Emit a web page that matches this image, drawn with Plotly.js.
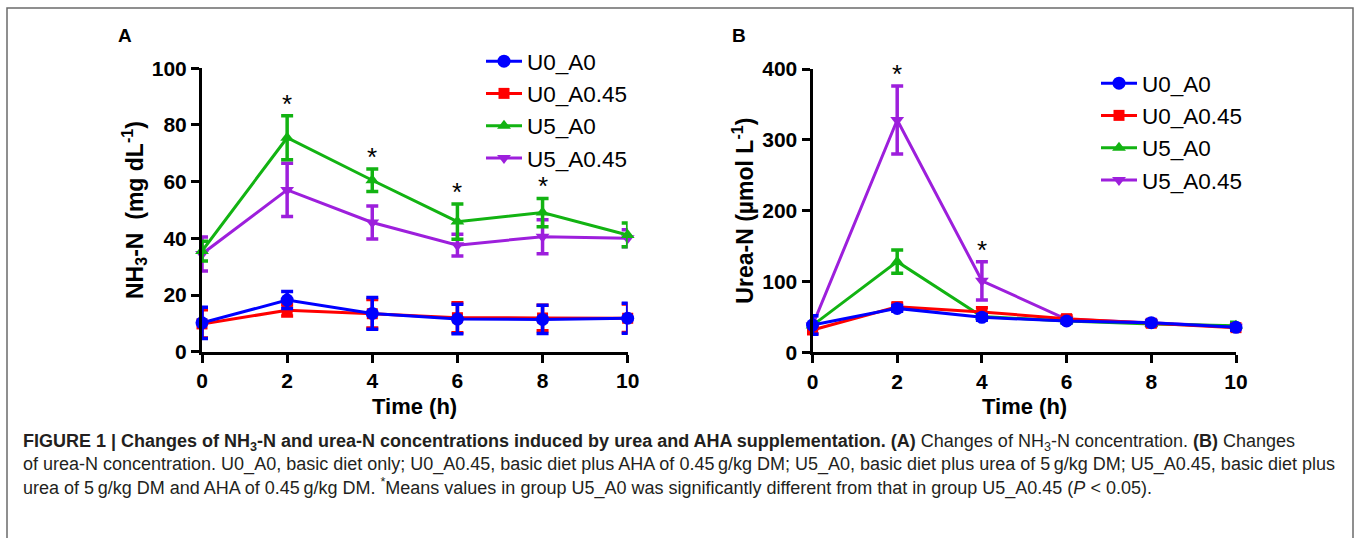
<!DOCTYPE html>
<html>
<head>
<meta charset="utf-8">
<script src="https://cdn.plot.ly/plotly-3.0.1.min.js"></script>
<style>
html,body{margin:0;padding:0;background:#fff;}
#chart{width:1357px;height:538px;}
</style>
</head>
<body>
<div id="chart"></div>
<script>
// ---------- data ----------
const times = [0, 2, 4, 6, 8, 10];
const groupNames = ['U0_A0', 'U0_A0.45', 'U5_A0', 'U5_A0.45'];

// Panel A: NH3-N (mg dL-1), mean and SE
const nh3_U0_A0      = [10.2, 18.2, 13.5, 11.5, 11.4, 11.8];
const nh3_U0_A0_err  = [5.5, 3.0, 5.6, 5.2, 5.0, 5.3];
const nh3_U0_A045    = [9.8, 14.6, 13.4, 12.0, 11.9, 11.8];
const nh3_U0_A045_err= [5.0, 2.0, 5.0, 5.3, 4.5, 5.0];
const nh3_U5_A0      = [35.5, 75.5, 60.5, 45.9, 49.1, 41.2];
const nh3_U5_A0_err  = [3.5, 7.8, 4.0, 6.2, 5.0, 4.2];
const nh3_U5_A045    = [34.5, 57.1, 45.6, 37.6, 40.6, 40.0];
const nh3_U5_A045_err= [6.0, 9.4, 5.8, 3.8, 6.0, 3.0];

// Panel B: Urea-N (umol L-1), mean and SE
const urea_U0_A0      = [38.5, 62.0, 49.4, 44.2, 41.8, 35.3];
const urea_U0_A0_err  = [13.0, 4.0, 4.0, 3.0, 3.0, 4.0];
const urea_U0_A045    = [31.5, 64.4, 57.0, 47.5, 41.0, 34.8];
const urea_U0_A045_err= [5.0, 5.0, 6.0, 4.0, 3.0, 3.0];
const urea_U5_A0      = [38.0, 128.0, 50.5, 44.2, 40.0, 37.5];
const urea_U5_A0_err  = [4.0, 16.5, 4.0, 3.0, 3.0, 5.0];
const urea_U5_A045    = [38.0, 328.0, 101.0, 46.5, 41.8, 36.0];
const urea_U5_A045_err= [5.0, 48.0, 27.0, 3.0, 3.0, 3.0];

// time points with significant difference (U5_A0 vs U5_A0.45)
const sigA = [2, 4, 6, 8];
const sigB = [2, 4];

const yTicksA = [0, 20, 40, 60, 80, 100];
const yTicksB = [0, 100, 200, 300, 400];

// ---------- styling ----------
const W = 1357, H = 538;
const colors  = ['#0000ff', '#ff0000', '#12b312', '#9d1fdc'];
const symbols = ['circle', 'square', 'triangle-up', 'triangle-down'];
const msize   = [13, 11, 12, 12];
const FONT = 'Arial, Liberation Sans, sans-serif';

const seriesA = [[nh3_U0_A0, nh3_U0_A0_err], [nh3_U0_A045, nh3_U0_A045_err], [nh3_U5_A0, nh3_U5_A0_err], [nh3_U5_A045, nh3_U5_A045_err]];
const seriesB = [[urea_U0_A0, urea_U0_A0_err], [urea_U0_A045, urea_U0_A045_err], [urea_U5_A0, urea_U5_A0_err], [urea_U5_A045, urea_U5_A045_err]];

function makeTraces(series, xa, ya, leg) {
  const out = [];
  // draw purple first, blue last (on top)
  for (let i = series.length - 1; i >= 0; i--) {
    out.push({
      type: 'scatter', mode: 'lines+markers',
      x: times, y: series[i][0],
      xaxis: xa, yaxis: ya, legend: leg,
      name: groupNames[i], legendrank: i + 1,
      cliponaxis: false,
      line: {color: colors[i], width: 3},
      marker: {color: colors[i], symbol: symbols[i], size: msize[i]},
      error_y: {type: 'data', array: series[i][1], visible: true, color: colors[i], thickness: 3.5, width: 6}
    });
  }
  return out;
}

const traces = makeTraces(seriesA, 'x', 'y', 'legend').concat(makeTraces(seriesB, 'x2', 'y2', 'legend2'));

function starY(series, t) {
  const k = times.indexOf(t);
  let m = -Infinity;
  series.forEach(s => { m = Math.max(m, s[0][k] + s[1][k]); });
  return m;
}

const px = v => v / W;      // pixel -> paper x
const py = v => 1 - v / H;  // pixel -> paper y

const annotations = [];
const starFont = {family: FONT, size: 26, color: '#000'};
sigA.forEach(t => annotations.push({xref: 'x', yref: 'y', x: t, y: starY(seriesA, t), text: '*', showarrow: false,
  xanchor: 'center', yanchor: 'bottom', yshift: -5, font: starFont}));
sigB.forEach(t => annotations.push({xref: 'x2', yref: 'y2', x: t, y: starY(seriesB, t), text: '*', showarrow: false,
  xanchor: 'center', yanchor: 'bottom', yshift: -5, font: starFont}));

// panel letters
annotations.push({xref: 'paper', yref: 'paper', x: px(125), y: py(35), xanchor: 'center', yanchor: 'middle', text: '<b>A</b>', showarrow: false, font: {family: FONT, size: 19, color: '#000'}});
annotations.push({xref: 'paper', yref: 'paper', x: px(739), y: py(35), xanchor: 'center', yanchor: 'middle', text: '<b>B</b>', showarrow: false, font: {family: FONT, size: 19, color: '#000'}});

// axis titles
const titleFont = {family: FONT, size: 22, color: '#000', weight: 'bold'};
const yTitleFont = {family: FONT, size: 23, color: '#000', weight: 'bold'};
annotations.push({xref: 'x', yref: 'paper', x: 5, y: py(406), xanchor: 'center', yanchor: 'middle', text: 'Time (h)', showarrow: false, font: titleFont});
annotations.push({xref: 'x2', yref: 'paper', x: 5, y: py(406), xanchor: 'center', yanchor: 'middle', text: 'Time (h)', showarrow: false, font: titleFont});
annotations.push({xref: 'paper', yref: 'y', x: px(134), y: 50, xanchor: 'center', yanchor: 'middle', text: 'NH<sub>3</sub>-N  (mg dL<sup>-1</sup>)', textangle: -90, showarrow: false, font: yTitleFont});
annotations.push({xref: 'paper', yref: 'y2', x: px(743), y: 200, xanchor: 'center', yanchor: 'middle', text: 'Urea-N (µmol L<sup>-1</sup>)', textangle: -90, showarrow: false, font: yTitleFont});

// caption
const caption =
  '<b>FIGURE 1 | Changes of NH<sub>3</sub>-N and urea-N concentrations induced by urea and AHA supplementation. (A)</b> Changes of NH<sub>3</sub>-N concentration. <b>(B)</b> Changes<br>' +
  'of urea-N concentration. U0_A0, basic diet only; U0_A0.45, basic diet plus AHA of 0.45\u2009g/kg DM; U5_A0, basic diet plus urea of 5\u2009g/kg DM; U5_A0.45, basic diet plus<br>' +
  'urea of 5\u2009g/kg DM and AHA of 0.45\u2009g/kg DM. <sup>*</sup>Means values in group U5_A0 was significantly different from that in group U5_A0.45 (<i>P</i> &lt; 0.05).';
annotations.push({xref: 'paper', yref: 'paper', x: px(21), y: py(429), xanchor: 'left', yanchor: 'top', align: 'left',
  text: caption, showarrow: false, font: {family: FONT, size: 18, color: '#231f20'}});

const axisCommon = {
  showline: true, linecolor: '#000', linewidth: 3, mirror: false,
  ticks: 'outside', ticklen: 8, tickwidth: 3, tickcolor: '#000',
  showgrid: false, zeroline: false, fixedrange: true,
  tickfont: {family: FONT, size: 21, color: '#000', weight: 'bold'}
};

const legendCommon = {
  font: {family: FONT, size: 22.5, color: '#000'},
  bgcolor: 'rgba(0,0,0,0)', borderwidth: 0,
  itemwidth: 36, tracegroupgap: 0, xanchor: 'left', yanchor: 'top', itemclick: false
};

const layout = {
  width: W, height: H,
  margin: {l: 0, r: 0, t: 0, b: 0},
  paper_bgcolor: '#fff', plot_bgcolor: 'rgba(0,0,0,0)',
  showlegend: true,
  xaxis: Object.assign({}, axisCommon, {domain: [px(202), px(627.7)], range: [0, 10], tickvals: times, anchor: 'y'}),
  yaxis: Object.assign({}, axisCommon, {domain: [py(351.7), py(68.3)], range: [0, 100], tickvals: yTicksA, anchor: 'x'}),
  xaxis2: Object.assign({}, axisCommon, {domain: [px(812.5), px(1236)], range: [0, 10], tickvals: times, anchor: 'y2'}),
  yaxis2: Object.assign({}, axisCommon, {domain: [py(352.3), py(69)], range: [0, 400], tickvals: yTicksB, anchor: 'x2'}),
  legend: Object.assign({}, legendCommon, {x: px(481), y: py(40)}),
  legend2: Object.assign({}, legendCommon, {x: px(1096), y: py(62)}),
  annotations: annotations,
  shapes: [{type: 'rect', xref: 'paper', yref: 'paper', x0: px(7), x1: px(1353), y0: -0.02, y1: py(8),
    line: {color: '#6b6b6b', width: 1.5}, fillcolor: 'rgba(0,0,0,0)', layer: 'below'}]
};

Plotly.newPlot('chart', traces, layout, {displayModeBar: false, staticPlot: true});
</script>
</body>
</html>
